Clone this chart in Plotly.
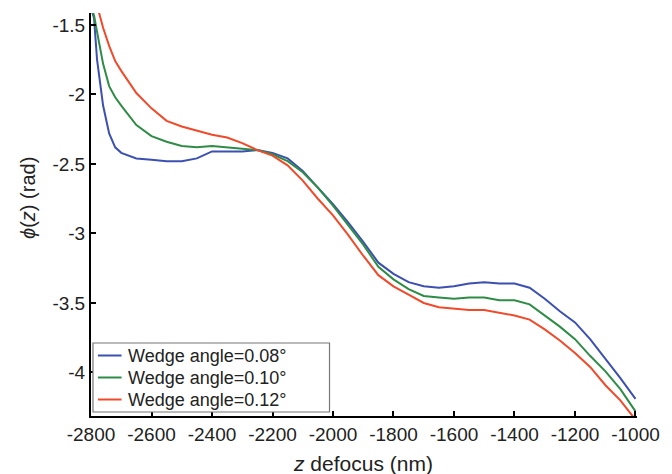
import plotly.graph_objects as go

z_nm = [-2800, -2790, -2780, -2760, -2740, -2720, -2700, -2650, -2600, -2550, -2500,
        -2450, -2400, -2350, -2300, -2250, -2200, -2150, -2100, -2050, -2000,
        -1950, -1900, -1850, -1800, -1750, -1700, -1650, -1600, -1550, -1500,
        -1450, -1400, -1350, -1300, -1250, -1200, -1150, -1100, -1050, -1000]

phi_008 = [-1.38, -1.45, -1.75, -2.08, -2.28, -2.38, -2.42, -2.46, -2.47, -2.48, -2.48,
           -2.46, -2.41, -2.41, -2.41, -2.40, -2.42, -2.46, -2.55, -2.67, -2.79,
           -2.92, -3.06, -3.21, -3.29, -3.35, -3.38, -3.39, -3.38, -3.36, -3.35,
           -3.36, -3.36, -3.39, -3.47, -3.56, -3.64, -3.76, -3.90, -4.04, -4.19]

phi_010 = [-1.38, -1.43, -1.55, -1.78, -1.94, -2.02, -2.08, -2.22, -2.30, -2.34, -2.37,
           -2.38, -2.37, -2.38, -2.39, -2.40, -2.43, -2.48, -2.56, -2.67, -2.80,
           -2.94, -3.08, -3.24, -3.33, -3.40, -3.45, -3.46, -3.47, -3.46, -3.46,
           -3.48, -3.48, -3.51, -3.59, -3.67, -3.76, -3.88, -3.99, -4.12, -4.28]

phi_012 = [-1.20, -1.28, -1.35, -1.52, -1.65, -1.76, -1.83, -1.99, -2.10, -2.19, -2.23,
           -2.26, -2.29, -2.31, -2.35, -2.40, -2.44, -2.51, -2.62, -2.75, -2.87,
           -3.01, -3.16, -3.30, -3.38, -3.44, -3.50, -3.53, -3.54, -3.55, -3.55,
           -3.57, -3.59, -3.62, -3.69, -3.77, -3.86, -3.96, -4.09, -4.20, -4.34]

series_names = ["Wedge angle=0.08°", "Wedge angle=0.10°", "Wedge angle=0.12°"]
series_colors = ["#3c50b0", "#2f8c46", "#f04a2a"]

x_ticks = [-2800, -2600, -2400, -2200, -2000, -1800, -1600, -1400, -1200, -1000]
x_ticktext = ["-2800", "-2600", "-2400", "-2200", "-2000", "-1800", "-1600", "-1400", "-1200", "-1000"]
y_ticks = [-1.5, -2, -2.5, -3, -3.5, -4]
y_ticktext = ["-1.5", "-2", "-2.5", "-3", "-3.5", "-4"]

font_family = "Liberation Sans, Arial, sans-serif"
text_color = "#222"

fig = go.Figure()
for name, col, ys in zip(series_names, series_colors, [phi_008, phi_010, phi_012]):
    fig.add_trace(go.Scatter(x=z_nm, y=ys, mode="lines", name=name,
                             line=dict(color=col, width=2), showlegend=False))

axis_common = dict(showgrid=False, zeroline=False, showline=True, linecolor="black",
                   linewidth=2, ticks="inside", ticklen=5, tickwidth=2, tickcolor="black",
                   tickfont=dict(family=font_family, size=19, color=text_color), mirror=False)

# Legend (box, line samples, labels) in paper coordinates; pixel -> paper helpers
def px_x(p):
    return (p - 91) / 554

def px_y(p):
    return (416 - p) / 403

shapes = [dict(type="rect", xref="paper", yref="paper", x0=px_x(93), x1=px_x(333),
               y0=px_y(412), y1=px_y(343),
               line=dict(color="#777", width=1.2), fillcolor="white", layer="above")]
annotations = []
entry_px = [355.5, 377.5, 399.5]
for name, col, yp in zip(series_names, series_colors, entry_px):
    yy = px_y(yp)
    shapes.append(dict(type="line", xref="paper", yref="paper", x0=px_x(98), x1=px_x(122), y0=yy, y1=yy,
                       line=dict(color=col, width=2), layer="above"))
    annotations.append(dict(xref="paper", yref="paper", x=px_x(127), y=yy, xanchor="left", yanchor="middle",
                            text=name, showarrow=False,
                            font=dict(family=font_family, size=18, color=text_color)))

annotations.append(dict(xref="paper", yref="paper", x=px_x(367), y=px_y(463),
                        xanchor="center", yanchor="middle", showarrow=False,
                        text="<i>z</i> defocus (nm)",
                        font=dict(family=font_family, size=21, color=text_color)))
annotations.append(dict(xref="paper", yref="paper", x=px_x(27), y=px_y(198),
                        xanchor="center", yanchor="middle", showarrow=False, textangle=-90,
                        text="<i>ϕ</i>(<i>z</i>) (rad)",
                        font=dict(family=font_family, size=20, color=text_color)))

fig.update_layout(
    width=672, height=474,
    margin=dict(l=91, r=27, t=13, b=58),
    paper_bgcolor="white", plot_bgcolor="white",
    showlegend=False,
    shapes=shapes,
    annotations=annotations,
    xaxis=dict(range=[-2800, -995], tickvals=x_ticks, ticktext=x_ticktext, **axis_common),
    yaxis=dict(range=[-4.313, -1.414], tickvals=y_ticks, ticktext=y_ticktext, **axis_common),
)

fig.write_html("out.html")
